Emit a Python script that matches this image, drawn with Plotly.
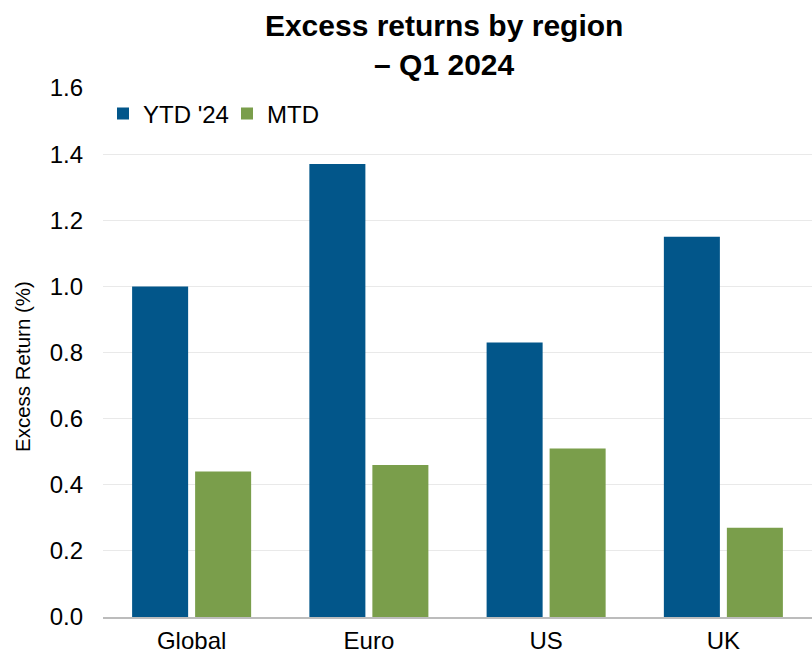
import plotly.graph_objects as go

categories = ["Global", "Euro", "US", "UK"]
ytd_values = [1.00, 1.37, 0.83, 1.15]
mtd_values = [0.44, 0.46, 0.51, 0.27]
y_ticks = [0.0, 0.2, 0.4, 0.6, 0.8, 1.0, 1.2, 1.4, 1.6]

fig = go.Figure()
fig.add_trace(go.Bar(name="YTD '24", x=categories, y=ytd_values,
                     marker=dict(color="#02568a", line=dict(width=0))))
fig.add_trace(go.Bar(name="MTD", x=categories, y=mtd_values,
                     marker=dict(color="#7a9e4b", line=dict(width=0))))

fig.update_layout(
    width=812, height=655,
    margin=dict(l=103, r=0, t=88, b=38, autoexpand=False),
    paper_bgcolor="white", plot_bgcolor="white",
    font=dict(family="Liberation Sans, Arial, sans-serif", color="#000000", size=24),
    title=dict(text="<b>Excess returns by region<br>– Q1 2024</b>",
               x=0.547, xanchor="center", y=0.945, yanchor="top",
               font=dict(size=30, color="#000000")),
    barmode="group", bargap=0.289, bargroupgap=0.111,
    legend=dict(orientation="h", x=0.0, y=0.951, xanchor="left", yanchor="middle",
                font=dict(size=24), bgcolor="rgba(0,0,0,0)",
                itemwidth=30, entrywidth=79, entrywidthmode="pixels",
                traceorder="normal"),
    showlegend=True,
    annotations=[dict(text="Excess Return (%)", textangle=-90,
                      xref="paper", yref="paper", x=-0.1128, y=0.4726,
                      xanchor="center", yanchor="middle", showarrow=False,
                      font=dict(size=20.5, color="#000000"))],
)
fig.update_yaxes(range=[0, 1.6], tickvals=y_ticks, ticktext=[f"{v:.1f}" for v in y_ticks],
                 showgrid=True, gridcolor="#e9e9e9", gridwidth=1,
                 zeroline=False, showline=False, ticks="", automargin=False,
                 ticklabelstandoff=19, tickfont=dict(size=24))
fig.update_xaxes(showline=True, linecolor="#bcbcbc", linewidth=2, ticks="",
                 automargin=False, ticklabelstandoff=1,
                 tickfont=dict(size=24))

fig.write_html("out.html", config={"displayModeBar": False},
               post_script="document.body.style.margin='0';")
